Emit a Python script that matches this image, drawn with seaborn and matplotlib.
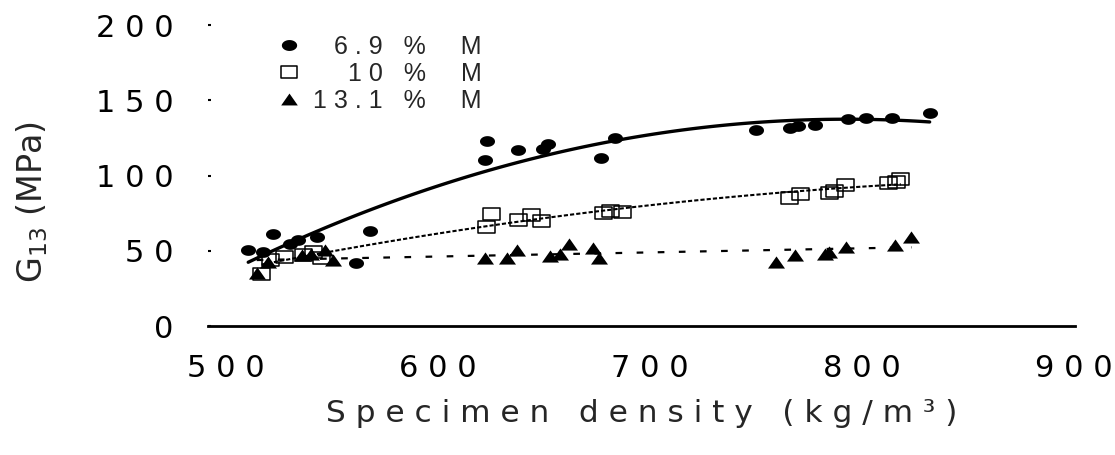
import numpy as np
import pandas as pd
import seaborn as sns
import matplotlib
matplotlib.use("Agg")
import matplotlib.pyplot as plt
from matplotlib.path import Path
from matplotlib.lines import Line2D

# ---------------- data ----------------
dens_69 = [510.5, 517.6, 522.3, 530, 534, 543, 561.3, 568, 622, 623, 638, 649.5, 652,
           677, 683.5, 750, 766, 770, 778, 793.5, 802, 814, 832]
g_69 = [50.5, 49.4, 61, 54.3, 57, 59.3, 41.7, 63.1, 110, 123, 117, 117.6, 121,
        111.4, 125, 130, 131.4, 133, 133.6, 137.3, 138, 138, 141.7]

dens_10 = [516.8, 521, 527.8, 536.5, 541.5, 545, 623, 625.3, 638, 644, 649, 678, 681.5,
           687, 765.7, 771, 784.6, 787, 792.5, 812.4, 816.4, 818.4]
g_10 = [34.3, 44, 46, 47.2, 49.4, 45, 66, 74.2, 70.4, 73.8, 69.8, 74.9, 76.6,
        76, 84.8, 87.5, 88.1, 89.9, 93.5, 94.8, 95.9, 97.9]

dens_131 = [514.5, 520, 535.7, 540, 546.7, 550.6, 622, 632.4, 637.4, 653, 657.5, 662, 673,
            676, 759.4, 768.4, 782.5, 784.6, 792.5, 815.6, 823.4]
g_131 = [35, 42.7, 47.2, 48, 50.5, 43.9, 45, 45, 50.5, 46.5, 47.8, 54.5, 51.6,
         45.4, 42.7, 47.2, 47.8, 49.4, 52.7, 53.8, 59.3]

series_labels = ["   6 . 9   %     M", "     1 0   %     M", "1 3 . 1   %     M"]

x_ticks = [500, 600, 700, 800, 900]
x_tick_labels = ["5 0 0", "6 0 0", "7 0 0", "8 0 0", "9 0 0"]
y_ticks = [0, 50, 100, 150, 200]
y_tick_labels = ["0", "5 0", "1 0 0", "1 5 0", "2 0 0"]

x_title = "S p e c i m e n   d e n s i t y   ( k g / m ³ )"
y_title = r"G$\mathregular{_{13}}$ (MPa)"

# ---------------- style ----------------
sns.set_style("white")
plt.rcParams["font.family"] = ["DejaVu Sans"]
plt.rcParams["axes.unicode_minus"] = False

# custom (horizontally stretched) markers
t = np.linspace(0, 2 * np.pi, 64)
ell = Path(np.column_stack([1.4 * np.cos(t), np.sin(t)]), closed=True)
rect = Path([(-1.4, -1), (1.4, -1), (1.4, 1), (-1.4, 1), (-1.4, -1)], closed=True)
tri = Path([(-1.4, -1), (1.4, -1), (0, 1), (-1.4, -1)], closed=True)

df69 = pd.DataFrame({"x": dens_69, "y": g_69})
df10 = pd.DataFrame({"x": dens_10, "y": g_10})
df131 = pd.DataFrame({"x": dens_131, "y": g_131})

fig, ax = plt.subplots(figsize=(11.15, 4.55), dpi=100)
fig.subplots_adjust(left=0.1865, right=0.964, bottom=0.2835, top=0.945)

sns.scatterplot(data=df69, x="x", y="y", marker=ell, s=117, color="black",
                edgecolor="black", linewidth=0, ax=ax, zorder=2)
sns.scatterplot(data=df10, x="x", y="y", marker=rect, s=150, facecolor="none",
                edgecolor="black", linewidth=1.1, ax=ax, zorder=2)
sns.scatterplot(data=df131, x="x", y="y", marker=tri, s=150, color="black",
                edgecolor="black", linewidth=0, ax=ax, zorder=2)

sns.regplot(data=df69, x="x", y="y", order=2, ci=None, scatter=False, ax=ax,
            line_kws=dict(color="black", lw=2.4, zorder=3))
sns.regplot(data=df10, x="x", y="y", order=2, ci=None, scatter=False, ax=ax,
            line_kws=dict(color="black", lw=1.5, ls=(0, (2, 1)), zorder=3))
sns.regplot(data=df131, x="x", y="y", order=1, ci=None, scatter=False, ax=ax,
            line_kws=dict(color="black", lw=1.6, ls=(0, (3, 6.5)), zorder=3))

ax.set_xlim(491.5, 900.5)
ax.set_ylim(0, 200)
ax.set_xticks(x_ticks)
ax.set_xticklabels(x_tick_labels)
ax.set_yticks(y_ticks)
ax.set_yticklabels(y_tick_labels)

for sp in ["top", "right", "left"]:
    ax.spines[sp].set_visible(False)
ax.spines["bottom"].set_linewidth(2)
ax.spines["bottom"].set_color("black")

ax.tick_params(axis="x", direction="out", length=8, width=2.2, pad=12,
               labelsize=22, colors="black")
ax.tick_params(axis="y", direction="in", length=2.5, width=1.5, pad=25,
               labelsize=22, colors="black", left=True)

ax.set_xlabel(x_title, fontsize=22.5, labelpad=12)
ax.set_ylabel(y_title, fontsize=24)
ax.yaxis.set_label_coords(-0.182, 0.412)

handles = [
    Line2D([], [], ls="none", marker=ell, markersize=11, mfc="black", mec="black", mew=0),
    Line2D([], [], ls="none", marker=rect, markersize=12, mfc="white", mec="black", mew=1.1),
    Line2D([], [], ls="none", marker=tri, markersize=12, mfc="black", mec="black", mew=0),
]
ax.legend(handles, series_labels, loc="upper left", bbox_to_anchor=(0.079, 0.968),
          frameon=False, prop={"family": "Liberation Sans", "size": 18},
          handlelength=1.0, handletextpad=0.45, labelspacing=0.12,
          borderpad=0, borderaxespad=0)

fig.savefig("out.png", dpi=100)
